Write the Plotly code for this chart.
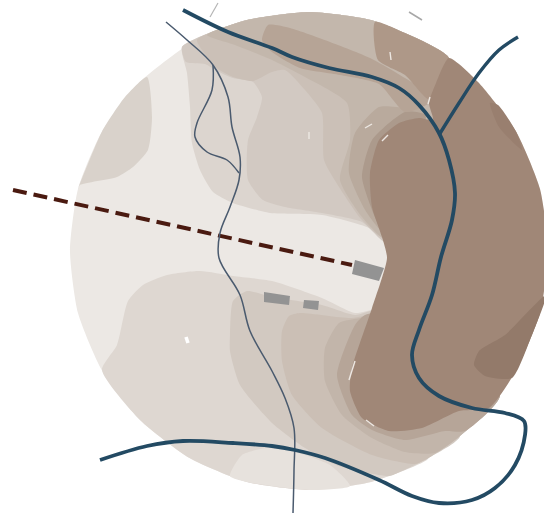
import plotly.graph_objects as go

# Shapes, as (x, y) positions in image units
disc = [(309,12),(371,20),(428.5,44),(478,82),(516,131.5),(540,189),(548,251),(540,313),(516,370.5),(478,420),(428.5,458),(371,482),(309,490),(247,482),(189.5,458),(140,420),(102,370.5),(78,313),(70,251),(78,189),(102,131.5),(140,82),(189.5,44),(247,20),(309,12)]
left_blob = [(147,77),(152,117),(148,150),(133,167),(117,177),(80,185),(78,189),(102,131.5),(125,97),(147,77)]
lower_blob = [(102,370),(117,345),(128,301),(143,285),(167,275),(200,271),(233,276),(272,281),(322,298),(355,313),(380,310),(380,440),(428.5,458),(371,482),(309,490),(247,482),(189.5,458),(140,420),(102,370)]
bottom_light = [(230,476),(242,455),(267,448),(295,452),(330,465),(350,486),(309,490),(247,482),(230,476)]
zone_a = [(182,47),(187,73),(190,107),(192,143),(200,170),(213,192),(233,203),(270,213),(322,215),(369,228),(387,243),(410,200),(440,100),(449,58),(428.5,44),(371,20),(309,12),(247,20),(214,31),(182,47)]
zone_b = [(182,47),(186,62),(205,64),(217,71),(233,78),(253,82),(262,97),(257,117),(248,140),(248,180),(263,200),(285,207),(322,213),(362,222),(387,243),(410,200),(440,100),(449,58),(428.5,44),(371,20),(309,12),(247,20),(214,31),(182,47)]
zone_c = [(197,40),(217,68),(233,77),(253,81),(272,72),(285,70),(305,90),(322,113),(324,160),(339,187),(362,220),(387,240),(410,200),(440,100),(449,58),(428.5,44),(371,20),(309,12),(247,20),(220,29),(197,40)]
zone_d = [(207,35),(235,45),(272,60),(305,77),(347,103),(350,140),(340,180),(362,217),(387,240),(410,200),(440,100),(449,58),(428.5,44),(371,20),(309,12),(247,20),(207,35)]
zone_e = [(379,107),(355,133),(349,173),(367,213),(385,233),(410,200),(425,110),(405,108),(379,107)]
zone_f = [(405,112),(372,140),(362,177),(375,217),(387,240),(410,200),(425,115),(405,112)]
top_band = [(268,25),(290,28),(330,42),(370,58),(405,78),(430,95),(429,103),(405,112),(379,84),(340,75),(300,68),(272,52),(262,40),(268,25)]
top_right = [(375,22),(378,60),(405,75),(430,100),(449,58),(428.5,44),(405,33),(375,22)]
lower_b = [(230,335),(233,301),(247,291),(272,297),(322,305),(355,315),(380,310),(400,380),(460,436),(428.5,458),(400,472),(389,476),(339,466),(305,448),(272,423),(240,385),(230,351),(230,335)]
lower_c = [(289,316),(282,331),(282,361),(292,395),(322,428),(372,455),(415,464),(428.5,458),(460,436),(500,395),(400,310),(352,318),(300,313),(289,316)]
lower_d = [(339,323),(325,348),(325,381),(342,415),(372,438),(405,452),(435,453),(460,436),(500,395),(400,310),(360,318),(339,323)]
lower_e = [(355,325),(337,375),(352,415),(372,430),(405,440),(445,431),(465,431),(500,395),(400,310),(365,315),(355,325)]
dark_main = [(449,58),(436,83),(429,103),(433,120),(419,118),(399,123),(379,140),(370,173),(372,207),(382,237),(387,258),(372,308),(352,368),(350,391),(362,418),(389,431),(422,428),(459,411),(489,408),(516,370.5),(540,313),(548,251),(540,189),(516,131.5),(478,82),(449,58)]
dark_patch = [(546,295),(505,335),(479,351),(474,365),(485,376),(512,378),(530,340),(546,295)]
dark_corner = [(490,103),(499,127),(522,150),(516,131.5),(498,105),(490,103)]

area_layers = [
    (disc, "#ECE8E4"), (left_blob, "#D9D2CB"), (lower_blob, "#DED7D1"), (bottom_light, "#E7E2DD"),
    (zone_a, "#DCD5CF"), (zone_b, "#D2C9C2"), (zone_c, "#CBC0B7"), (zone_d, "#C3B7AC"),
    (zone_e, "#B9AA9D"), (zone_f, "#AC9A8C"), (top_band, "#B6A496"), (top_right, "#AE9888"),
    (lower_b, "#D2C9C1"), (lower_c, "#CBBFB5"), (lower_d, "#C2B5AA"), (lower_e, "#B6A598"),
    (dark_main, "#A08777"), (dark_corner, "#997F6F"), (dark_patch, "#937A6A"),
]

building_1 = [(355,260),(384,268),(379,281),(352,274),(355,260)]
building_2 = [(264,292),(290,296),(289,305),(264,302),(264,292)]
building_3 = [(304,300),(319,301),(318,310),(303,308),(304,300)]

river_main = [(183,10),(228,32),(272,48),(292,57),(329,68),(372,77),(399,88),(419,105),(439,133),(449,160),(455,193),(452,220),(441,257),(432,295),(419,330),(412,355),(419,378),(439,396),(472,408),(505,413),(524,421),(525,435),(515,465),(495,488),(472,500),(439,503),(412,496),(379,480),(325,458),(295,450),(272,446),(233,443),(183,441),(147,446),(100,460)]
river_branch = [(439,135),(459,103),(479,73),(499,50),(518,37)]
stream_main = [(166,22),(187,40),(213,65),(228,97),(232,127),(240,157),(239,180),(230,207),(220,233),(219,258),(240,295),(250,331),(272,371),(285,398),(294,428),(294,471),(293,513)]
stream_branch = [(213,65),(212,90),(197,123),(195,137),(207,152),(227,160),(239,173)]
tick_a = [(210,17),(218,3)]
tick_b = [(409,12),(422,20)]
route = [(13,190),(352,265)]
flecks = [
    [(355,361),(349,380)], [(366,420),(374,426)], [(309,132),(309,139)],
    [(365,128),(372,124)], [(382,141),(388,135)], [(430,97),(428,104)], [(390,52),(391,60)],
]
white_spot = [(186,337),(188,343)]

def xs(p):
    return [a for a, _ in p]

def ys(p):
    return [b for _, b in p]

fig = go.Figure()
for poly, colour in area_layers:
    fig.add_trace(go.Scatter(x=xs(poly), y=ys(poly), mode="lines", fill="toself", fillcolor=colour,
                             line=dict(width=0, shape="spline", smoothing=0.6, color=colour)))
for fleck in flecks:
    fig.add_trace(go.Scatter(x=xs(fleck), y=ys(fleck), mode="lines", line=dict(width=1.4, color="#EDE8E3")))
fig.add_trace(go.Scatter(x=xs(white_spot), y=ys(white_spot), mode="lines", line=dict(width=3.5, color="#FFFFFF")))
for poly in (building_1, building_2, building_3):
    fig.add_trace(go.Scatter(x=xs(poly), y=ys(poly), mode="lines", fill="toself", fillcolor="#939393",
                             line=dict(width=0, color="#939393")))
fig.add_trace(go.Scatter(x=xs(route), y=ys(route), mode="lines", line=dict(width=4, color="#4A1A10", dash="14px,7px")))
for line_pts, colour, w in [(stream_main, "#4A5A6E", 1.5), (stream_branch, "#4A5A6E", 1.5), (tick_a, "#B5B5B5", 1.2), (tick_b, "#A8A8A8", 1.5),
                            (river_main, "#234A63", 3.8), (river_branch, "#234A63", 3.4)]:
    fig.add_trace(go.Scatter(x=xs(line_pts), y=ys(line_pts), mode="lines",
                             line=dict(width=w, color=colour, shape="spline", smoothing=1.0)))

fig.update_layout(width=544, height=515, margin=dict(l=0, r=0, t=0, b=0), showlegend=False,
                  paper_bgcolor="white", plot_bgcolor="white",
                  xaxis=dict(range=[0, 544], visible=False, fixedrange=True),
                  yaxis=dict(range=[515, 0], visible=False, fixedrange=True))
fig.write_html("out.html", post_script="document.body.style.margin='0';", config={"displayModeBar": False})
